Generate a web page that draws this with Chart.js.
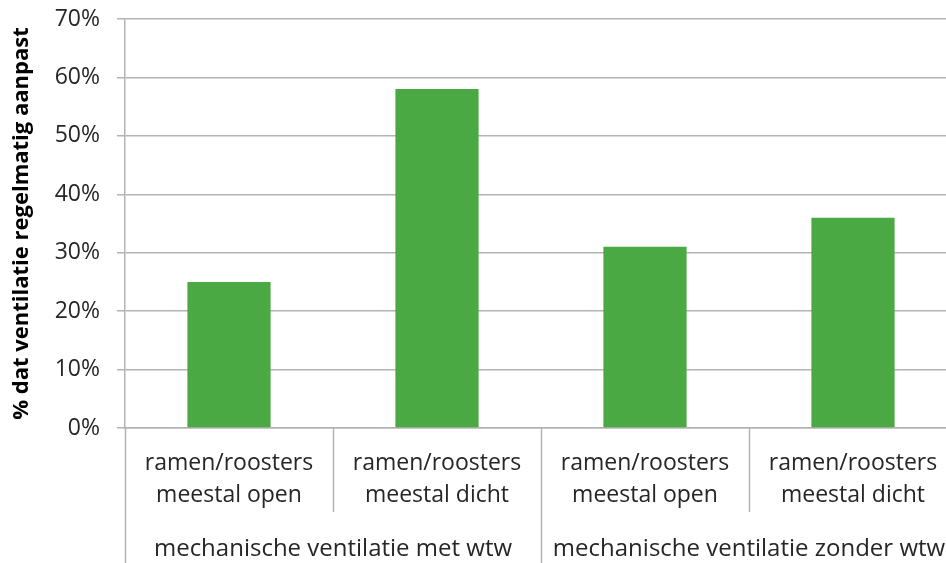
<!DOCTYPE html>
<html lang="nl">
<head>
    <title>Ventilatie aanpassen</title>
    <script src="https://cdn.jsdelivr.net/npm/chart.js"></script>
    <style>
        html, body { margin: 0; padding: 0; background: #fff; overflow: hidden; }
        #chartContainer { width: 957px; height: 563px; }
    </style>
</head>
<body>
<div id="chartContainer">
    <canvas id="ventChart"></canvas>
</div>
<script>
// Data
const subLabels = [
    ['ramen/roosters', 'meestal open'],
    ['ramen/roosters', 'meestal dicht'],
    ['ramen/roosters', 'meestal open'],
    ['ramen/roosters', 'meestal dicht']
];
const groupLabels = ['mechanische ventilatie met wtw', 'mechanische ventilatie zonder wtw'];
const values = [25, 58, 31, 36];
const yTicks = [0, 10, 20, 30, 40, 50, 60, 70];
const yTitle = '% dat ventilatie regelmatig aanpast';

const lineColor = '#b3b3b3';
const textColor = '#262626';
const fontFamily = '"Open Sans", sans-serif';

// Draws the separators of the two-level category axis
const separatorPlugin = {
    id: 'separators',
    afterDraw(chart) {
        const ctx = chart.ctx;
        const x = chart.scales.x;
        const area = chart.chartArea;
        const bottom = chart.height;
        const subBottom = chart.scales.x2.top;
        ctx.save();
        ctx.strokeStyle = lineColor;
        ctx.lineWidth = 1.5;
        for (let i = 0; i <= subLabels.length; i++) {
            let px;
            if (i === 0) px = area.left;
            else if (i === subLabels.length) px = area.right;
            else px = (x.getPixelForValue(i - 1) + x.getPixelForValue(i)) / 2;
            const yEnd = (i % 2 === 0) ? bottom : subBottom;
            ctx.beginPath();
            ctx.moveTo(Math.round(px) + 0.5, area.bottom);
            ctx.lineTo(Math.round(px) + 0.5, yEnd);
            ctx.stroke();
        }
        ctx.restore();
    }
};

// Fixed axis sizes, no extra padding for overflowing labels
const fixHeight = h => s => {
    s.height = h;
    s.paddingLeft = 0;
    s.paddingRight = 0;
};

const ctx = document.getElementById('ventChart').getContext('2d');
new Chart(ctx, {
    type: 'bar',
    data: {
        labels: subLabels,
        datasets: [{
            data: values,
            backgroundColor: '#4aa943',
            borderWidth: 0,
            barPercentage: 0.4,
            categoryPercentage: 1.0
        }]
    },
    options: {
        responsive: true,
        maintainAspectRatio: false,
        animation: false,
        layout: { padding: { top: 19, right: 0, left: 0, bottom: 0 } },
        plugins: {
            legend: { display: false },
            tooltip: { enabled: false }
        },
        scales: {
            x: {
                grid: { display: false, drawTicks: false },
                border: { display: true, color: lineColor, width: 1.5 },
                afterFit: fixHeight(84),
                ticks: {
                    color: textColor,
                    font: { family: fontFamily, size: 23, lineHeight: 1.4 },
                    padding: 19,
                    maxRotation: 0,
                    autoSkip: false
                }
            },
            x2: {
                type: 'category',
                labels: groupLabels,
                position: 'bottom',
                offset: true,
                grid: { display: false, drawTicks: false },
                border: { display: false },
                afterFit: fixHeight(51),
                ticks: {
                    color: textColor,
                    font: { family: fontFamily, size: 24, lineHeight: 1.4 },
                    padding: 20,
                    maxRotation: 0,
                    autoSkip: false
                }
            },
            y: {
                min: yTicks[0],
                max: yTicks[yTicks.length - 1],
                afterFit: s => { s.width = 125; s.paddingTop = 0; s.paddingBottom = 0; },
                afterBuildTicks: s => { s.ticks = yTicks.map(v => ({ value: v })); },
                grid: { color: lineColor, lineWidth: 1.5, tickLength: 8 },
                border: { color: lineColor, width: 1.5 },
                ticks: {
                    color: textColor,
                    padding: 17,
                    font: { family: fontFamily, size: 23 },
                    callback: v => v + '%'
                },
                title: {
                    display: true,
                    text: yTitle,
                    color: '#000',
                    padding: { top: 9, bottom: 0 },
                    font: { family: fontFamily, size: 22, weight: 'bold', lineHeight: 1.2 }
                }
            }
        }
    },
    plugins: [separatorPlugin]
});
</script>
</body>
</html>
